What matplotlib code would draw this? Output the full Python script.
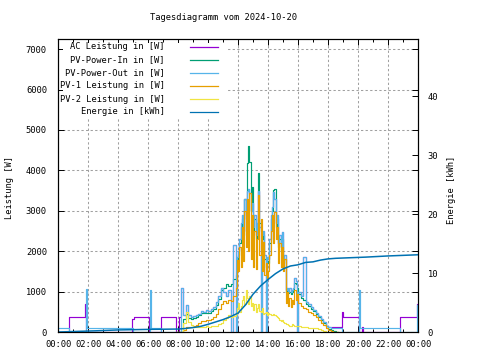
import numpy as np
import pandas as pd
import matplotlib
matplotlib.use("Agg")
import matplotlib.pyplot as plt
from matplotlib.patches import Rectangle
from matplotlib.lines import Line2D
from matplotlib.ticker import MultipleLocator, FuncFormatter

# ---------------- data ----------------
title = "Tagesdiagramm vom 2024-10-20"
ylabel_left = "Leistung [W]"
ylabel_right = "Energie [kWh]"
labels = ["AC Leistung in [W]", "PV-Power-In in [W]", "PV-Power-Out in [W]",
          "PV-1 Leistung in [W]", "PV-2 Leistung in [W]", "Energie in [kWh]"]
colors = ["#9400d3", "#009e73", "#56b4e9", "#e69f00", "#f0e442", "#0072b2"]

# daytime sampling grid (10 min, 5 min around noon, 10 min afternoon)
day_times = (list(pd.date_range("2024-10-20 07:50", "2024-10-20 11:40", freq="10min").strftime("%H:%M"))
             + list(pd.date_range("2024-10-20 11:50", "2024-10-20 15:55", freq="5min").strftime("%H:%M"))
             + list(pd.date_range("2024-10-20 16:00", "2024-10-20 18:40", freq="10min").strftime("%H:%M")))

pv_in_day = [0, 0, 0, 330, 450, 350, 330, 350, 380, 420, 470, 460, 480, 470, 520, 580, 670, 820, 1040, 1100,
             1200, 1150, 1200, 1300,
             1400, 1750, 1900, 2200, 2600, 2800, 2400, 3300, 2900, 4180, 4600, 4200, 3000, 3600, 2500, 2800,
             2300, 2600, 3930, 2700, 2500, 2300, 2400, 1800, 1600, 1750, 1700, 2200, 2800, 3000, 3510, 3540,
             2600, 2800, 2100, 2300, 2000, 2300, 1700, 1800, 1000, 1050, 960, 1000, 950, 990, 1050, 1210,
             1200, 1100,
             950, 850, 800, 700, 640, 580, 520, 450, 370, 300, 230, 140, 80, 50, 20, 0, 0]

pv_out_day = [0, 0, 1090, 420, 670, 420, 380, 400, 420, 450, 520, 500, 540, 530, 560, 620, 740, 900, 1100, 1000,
              900, 1050, 0, 2150,
              0, 1850, 2000, 2300, 2700, 2900, 2500, 3300, 2800, 3500, 3550, 3450, 3000, 3190, 2600, 2900,
              2400, 2700, 3500, 2600, 0, 2400, 2500, 1900, 0, 1850, 1800, 2300, 2900, 3100, 3460, 3300,
              2700, 2900, 2200, 2400, 2100, 2480, 1800, 1900, 1050, 1100, 1000, 1090, 1000, 1050, 1100, 1340,
              1260, 0,
              1000, 900, 1860, 740, 700, 620, 550, 480, 400, 320, 250, 150, 120, 110, 100, 100, 100]

pv1_day = [0, 0, 0, 60, 120, 120, 130, 150, 180, 220, 260, 270, 290, 300, 320, 380, 450, 560, 700, 760,
           720, 800, 760, 900,
           1100, 1770, 1500, 2100, 1600, 2600, 1750, 3000, 2100, 3300, 2000, 3440, 1800, 2900, 1600, 2500,
           1550, 2300, 3380, 1900, 2800, 1500, 2230, 1400, 1700, 1340, 1500, 1900, 2500, 2900, 2200, 2970,
           2300, 2600, 1700, 2200, 1600, 2100, 1500, 1800, 720, 1000, 650, 850, 620, 800, 700, 1040,
           800, 950,
           720, 650, 600, 560, 500, 470, 430, 380, 300, 230, 170, 100, 50, 20, 0, 0, 0]

pv2_day = [0, 0, 0, 220, 500, 250, 170, 130, 120, 120, 120, 130, 140, 130, 140, 150, 160, 190, 220, 300,
           350, 420, 380, 400,
           450, 600, 720, 500, 650, 800, 900, 700, 1040, 850, 700, 900, 650, 720, 550, 700,
           500, 600, 700, 520, 500, 600, 450, 480, 500, 430, 470, 450, 420, 430, 440, 420,
           400, 370, 350, 300, 280, 300, 250, 230, 200, 190, 170, 160, 150, 200, 170, 150,
           160, 140,
           140, 130, 120, 120, 110, 100, 110, 90, 80, 60, 30, 10, 0, 0, 0, 0, 0]

# PV-Power-Out outside the day grid
pv_out_morning_times = ["00:00", "00:45", "01:51", "01:57", "05:00", "06:07", "06:11", "06:52"]
pv_out_morning = [100, 0, 1060, 100, 0, 1040, 100, 0]
pv_out_evening_times = ["18:56", "20:03", "20:07", "22:48", "23:57", "24:00"]
pv_out_evening = [0, 1040, 100, 0, 670, 670]

# AC power: night values; during the day the AC readings coincide with PV-Power-Out (until 18:10)
ac_morning_times = ["00:00", "00:45", "01:48", "01:52", "04:55", "05:02", "06:05", "06:52", "07:52", "08:04"]
ac_morning = [0, 370, 690, 0, 320, 370, 0, 370, 0, 370]
ac_day = pv_out_day
ac_day_end = "18:10"
ac_evening_times = ["18:15", "18:56", "18:58", "20:04", "20:14", "20:18", "22:48", "23:57", "24:00"]
ac_evening = [120, 500, 370, 0, 120, 0, 370, 690, 690]

# daily energy (right axis)
energy_times = ["00:00", "00:40", "02:30", "04:00", "06:10", "08:00", "08:30", "09:00", "09:30", "10:00",
                "10:30", "11:00", "11:30", "12:00", "12:30", "13:00", "13:30", "14:00", "14:30", "15:00",
                "15:30", "16:00", "16:30", "17:00", "17:30", "18:00", "18:30", "19:30", "20:30", "22:00",
                "23:00", "24:00"]
energy_kwh = [0.0, 0.05, 0.2, 0.35, 0.45, 0.5, 0.6, 0.75, 0.95, 1.3,
              1.7, 2.1, 2.6, 3.2, 4.6, 6.4, 7.8, 8.9, 9.9, 10.7,
              11.2, 11.4, 11.8, 11.9, 12.2, 12.4, 12.5, 12.6, 12.7, 12.9,
              13.0, 13.1]


def to_hours(ts):
    out = []
    for s in ts:
        h, m = s.split(":")
        out.append(int(h) + int(m) / 60.0)
    return np.array(out)


# ---------------- figure ----------------
FONT = "DejaVu Sans Mono"
FS = 6.3
plt.rcParams["font.family"] = FONT
plt.rcParams["font.size"] = FS

fig = plt.figure(figsize=(4.8, 3.6), dpi=100)
ax = fig.add_axes([58 / 480, 28 / 360, 360 / 480, 293 / 360])
ax2 = ax.twinx()

t_day = to_hours(day_times)
lw = 0.85
kw = dict(drawstyle="steps-post", linewidth=lw, zorder=2)

# AC
t_morn = to_hours(ac_morning_times)
t_end = to_hours([ac_day_end])[0]
sel = (t_day > t_morn[-1]) & (t_day <= t_end)
ac_t = np.concatenate([t_morn, t_day[sel], to_hours(ac_evening_times)])
ac_v = list(ac_morning) + list(np.array(ac_day)[sel]) + list(ac_evening)
ax.plot(ac_t, ac_v, color=colors[0], **kw)

ax.plot(t_day, pv_in_day, color=colors[1], **kw)
out_t = np.concatenate([to_hours(pv_out_morning_times), t_day, to_hours(pv_out_evening_times)])
out_v = list(pv_out_morning) + list(pv_out_day) + list(pv_out_evening)
ax.plot(out_t, out_v, color=colors[2], **kw)
ax.plot(t_day, pv1_day, color=colors[3], **kw)
ax.plot(t_day, pv2_day, color=colors[4], **kw)
ax2.plot(to_hours(energy_times), energy_kwh, color=colors[5], linewidth=1.1)

ax.set_xlim(0, 24)
ax.set_ylim(0, 7250)
ax2.set_ylim(0, 49.7)

ax.xaxis.set_major_locator(MultipleLocator(2))
ax.xaxis.set_minor_locator(MultipleLocator(1))
ax.xaxis.set_major_formatter(FuncFormatter(lambda v, p: "%02d:00" % (int(round(v)) % 24)))
ax.yaxis.set_major_locator(MultipleLocator(1000))
ax2.yaxis.set_major_locator(MultipleLocator(10))

ax.tick_params(axis="x", which="major", direction="in", length=4, width=0.7, top=True, pad=6, labelsize=FS)
ax.tick_params(axis="x", which="minor", direction="in", length=2, width=0.7, top=True)
ax.tick_params(axis="y", which="major", direction="in", length=4, width=0.7, right=True, pad=8, labelsize=FS)
ax2.tick_params(axis="y", direction="in", length=4, width=0.7, pad=7, labelsize=FS)

ax.set_axisbelow(True)
ax.grid(True, which="major", color="#a0a0a0", linestyle=(0, (2.2, 2.2)), linewidth=0.75)

for a in (ax, ax2):
    for sp in a.spines.values():
        sp.set_linewidth(0.8)
        sp.set_color("black")

ax2.patch.set_visible(False)

# legend area (opaque) and entries, gnuplot style: right aligned text, then sample line
ax.add_patch(Rectangle((0.015, 0.73), 0.455, 0.255, transform=ax.transAxes,
                       facecolor="white", edgecolor="none", zorder=0.7))
rows_y = [0.973, 0.928, 0.884, 0.840, 0.795, 0.751]
for lab, col, yy in zip(labels, colors, rows_y):
    ax.text(0.297, yy, lab, transform=ax.transAxes, ha="right", va="center", fontsize=FS, zorder=3)
    ax.add_line(Line2D([0.367, 0.444], [yy, yy], transform=ax.transAxes, color=col,
                       linewidth=0.9, zorder=3))

fig.text(223.5 / 480, 1 - 17 / 360, title, ha="center", va="center", fontsize=FS)
fig.text(10 / 480, 1 - 187 / 360, ylabel_left, rotation=90, ha="center", va="center", fontsize=FS)
fig.text(452 / 480, 1 - 190 / 360, ylabel_right, rotation=90, ha="center", va="center", fontsize=FS)

fig.savefig("out.png", dpi=100)
